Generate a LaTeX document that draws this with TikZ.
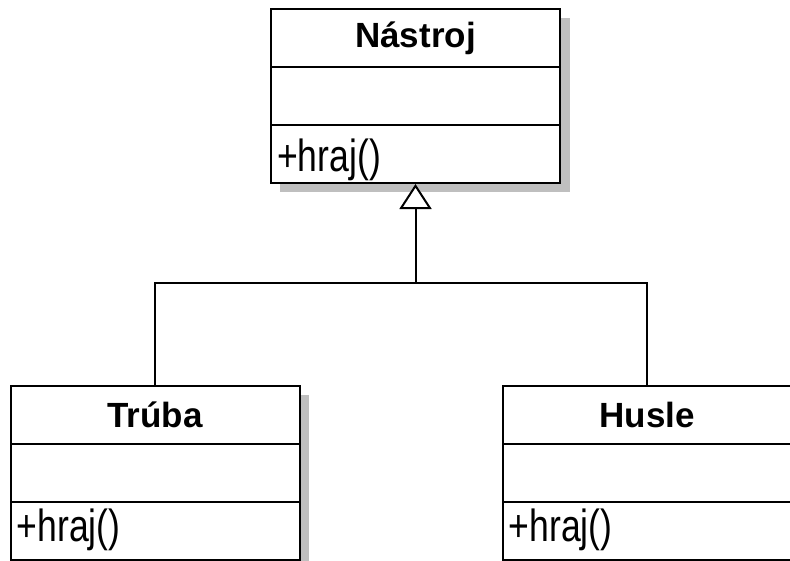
\documentclass[tikz,border=0pt]{standalone}
\usepackage{fontspec}
\setmainfont{Liberation Sans}
\usetikzlibrary{arrows.meta}
\newcommand{\clsname}[1]{{\fontsize{35}{40}\selectfont\bfseries #1}}
\newcommand{\opname}[1]{{\fontsize{45}{50}\selectfont\scalebox{0.79}[1]{#1}}}
\begin{document}
\begin{tikzpicture}[x=1pt,y=-1pt,
  compart/.style={draw, line width=2pt, fill=white, inner sep=0pt,
    minimum width=289pt, minimum height=58pt, anchor=north west},
  shadowbox/.style={fill=black!25},
  optext/.style={inner sep=0pt, anchor=base west},
  link/.style={line width=2pt},
  general/.style={link, -{Triangle[fill=white, length=25pt, width=32pt]}}]
\useasboundingbox (0,0) rectangle (790,560);
\clip (0,0) rectangle (790,560);
% shadows
\fill[shadowbox] (280,18) rectangle (570,192);
\fill[shadowbox] (20,395) rectangle (309,570);
\fill[shadowbox] (512,395) rectangle (801,570);
% Nastroj
\node[compart] (n-h) at (270,8) {\clsname{Nástroj}};
\node[compart] (n-a) at (270,66) {};
\node[compart] (n-o) at (270,124) {};
\node[optext] (n-t) at (277,171.5) {\opname{+hraj()}};
% Truba
\node[compart] (t-h) at (9.5,385) {\clsname{Trúba}};
\node[compart] (t-a) at (9.5,443) {};
\node[compart] (t-o) at (9.5,501) {};
\node[optext] (t-t) at (16.5,541.5) {\opname{+hraj()}};
% Husle
\node[compart] (h-h) at (501.5,385) {\clsname{Husle}};
\node[compart] (h-a) at (501.5,443) {};
\node[compart] (h-o) at (501.5,501) {};
\node[optext] (h-t) at (508.5,541.5) {\opname{+hraj()}};
% generalization
\coordinate (j) at (n-o.south |- 0,283);
\draw[link] (t-h.north) |- (j) -| (h-h.north);
\draw[general] (j) -- (n-o.south);
\end{tikzpicture}
\end{document}
